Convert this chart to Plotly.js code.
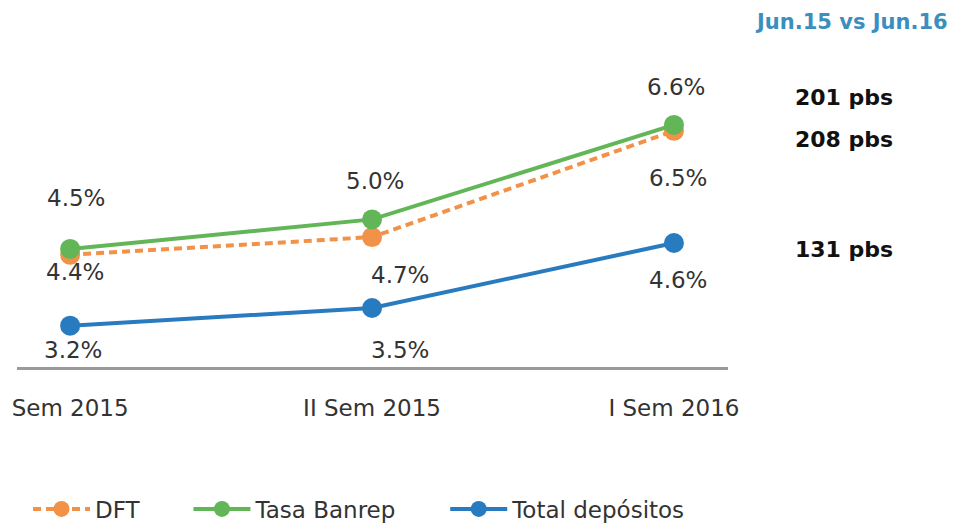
<!DOCTYPE html>
<html>
<head>
<meta charset="utf-8">
<script src="https://cdn.plot.ly/plotly-3.0.1.min.js"></script>
<style>html,body{margin:0;padding:0;background:#fff;}#chart{width:955px;height:527px;}</style>
</head>
<body>
<div id="chart"></div>
<script>
const categories = ["Sem 2015", "II Sem 2015", "I Sem 2016"];
const dft = [4.4, 4.7, 6.5];
const banrep = [4.5, 5.0, 6.6];
const depositos = [3.2, 3.5, 4.6];
const seriesNames = ["DFT", "Tasa Banrep", "Total depósitos"];
const header = "Jun.15 vs Jun.16";
const changes = ["201 pbs", "208 pbs", "131 pbs"];

const cOrange = "rgb(241,146,72)";
const cGreen = "rgb(99,182,87)";
const cBlue = "rgb(40,123,190)";
const font = "DejaVu Sans, sans-serif";
const pad = "\u00a0\u00a0\u00a0\u00a0\u00a0\u00a0";

const traces = [
  {x: categories, y: dft, name: seriesNames[0] + pad, mode: "lines+markers",
   line: {color: cOrange, width: 4, dash: "8px,5px"}, marker: {color: cOrange, size: 20}},
  {x: categories, y: banrep, name: seriesNames[1] + pad, mode: "lines+markers",
   line: {color: cGreen, width: 4}, marker: {color: cGreen, size: 20}},
  {x: categories, y: depositos, name: seriesNames[2], mode: "lines+markers",
   line: {color: cBlue, width: 4}, marker: {color: cBlue, size: 20}}
];

function lab(i, v, ys, xs) {
  return {x: categories[i], y: v, text: v.toFixed(1) + "%", showarrow: false,
    yshift: ys, xshift: xs || 0, font: {family: font, size: 23, color: "#333"}};
}
// plot area: x 17..728 (711 px), y 60..367 (307 px)
function px(x) { return (x - 17) / 711; }
function py(y) { return (367 - y) / 307; }
const annotations = [
  lab(0, banrep[0], 51, 6), lab(0, dft[0], -17, 5), lab(0, depositos[0], -24, 3),
  lab(1, banrep[1], 38, 3), lab(1, dft[1], -38, 28), lab(1, depositos[1], -42, 28),
  lab(2, banrep[2], 38, 2), lab(2, dft[2], -47, 4), lab(2, depositos[2], -37, 4),
  {xref: "paper", yref: "paper", x: px(950), y: py(22), xanchor: "right", yanchor: "middle",
   text: "<b>" + header + "</b>", showarrow: false, font: {family: font, size: 21, color: "rgb(58,143,192)"}},
  {xref: "paper", yref: "paper", x: px(793), y: py(97), xanchor: "left", yanchor: "middle",
   text: "<b>" + changes[0] + "</b>", showarrow: false, font: {family: font, size: 22, color: "#111"}},
  {xref: "paper", yref: "paper", x: px(793), y: py(139), xanchor: "left", yanchor: "middle",
   text: "<b>" + changes[1] + "</b>", showarrow: false, font: {family: font, size: 22, color: "#111"}},
  {xref: "paper", yref: "paper", x: px(793), y: py(249), xanchor: "left", yanchor: "middle",
   text: "<b>" + changes[2] + "</b>", showarrow: false, font: {family: font, size: 22, color: "#111"}}
];

const layout = {
  width: 955, height: 527,
  margin: {l: 17, r: 227, t: 60, b: 160},
  paper_bgcolor: "#fff", plot_bgcolor: "#fff",
  showlegend: true,
  legend: {orientation: "h", xref: "container", yref: "container", x: 28/955, y: 1 - 509/527,
           xanchor: "left", yanchor: "middle", font: {family: font, size: 23, color: "#333"},
           itemwidth: 57, tracegroupgap: 0},
  xaxis: {type: "category", range: [-0.176, 2.179], showgrid: false, zeroline: false,
          showline: true, linecolor: "#9a9a9a", linewidth: 3,
          ticks: "outside", ticklen: 18, tickcolor: "rgba(0,0,0,0)",
          tickfont: {family: font, size: 23, color: "#333"}},
  yaxis: {range: [2.5, 7.7], visible: false},
  annotations: annotations,
  hovermode: false
};

Plotly.newPlot("chart", traces, layout, {displayModeBar: false, staticPlot: true});
</script>
</body>
</html>
